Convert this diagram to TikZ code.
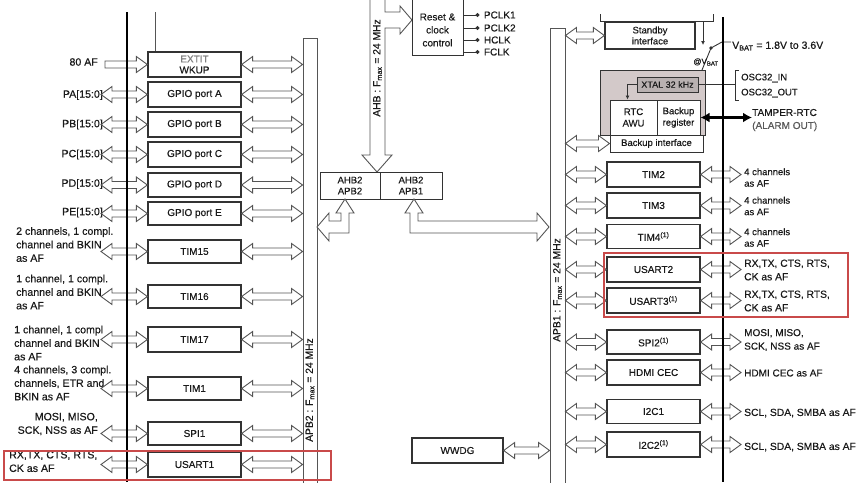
\documentclass[tikz,border=0pt]{standalone}
\usepackage{fontspec}
\setmainfont{Liberation Sans}[FakeBold=0.4]
\usetikzlibrary{calc,arrows.meta}
\definecolor{ln}{HTML}{333333}
\definecolor{ar}{HTML}{555555}
\definecolor{rd}{HTML}{C94A4A}
\definecolor{bk}{HTML}{D3C9C9}
\definecolor{xt}{HTML}{B9B1B1}
\definecolor{tx}{HTML}{1A1A1A}
\newcommand{\hda}[3]{%
 \draw[fatarr] let \p1=#1, \p2=#2, \p3=#3 in
 (\x1,\y3) -- (\x1+11pt,\y3+8pt) -- (\x1+11pt,\y3+3.5pt) -- (\x2-11pt,\y3+3.5pt) -- (\x2-11pt,\y3+8pt) -- (\x2,\y3) -- (\x2-11pt,\y3-8pt) -- (\x2-11pt,\y3-3.5pt) -- (\x1+11pt,\y3-3.5pt) -- (\x1+11pt,\y3-8pt) -- cycle;}
\newcommand{\hsa}[3]{%
 \draw[fatarr] let \p1=#1, \p2=#2, \p3=#3 in
 (\x1,\y3+3.5pt) -- (\x2-11pt,\y3+3.5pt) -- (\x2-11pt,\y3+8pt) -- (\x2,\y3) -- (\x2-11pt,\y3-8pt) -- (\x2-11pt,\y3-3.5pt) -- (\x1,\y3-3.5pt) -- cycle;}
\tikzset{
 box/.style={draw=ln, line width=1.3pt, fill=white, minimum width=93pt, minimum height=25pt, inner sep=1pt, font=\fontsize{10}{12}\selectfont, text=tx, align=center},
 fatarr/.style={draw=ar, line width=0.9pt, line join=miter},
 lbl/.style={font=\fontsize{10.6}{13.5}\selectfont, text=tx, inner sep=0pt},
 slbl/.style={font=\fontsize{9.5}{11.5}\selectfont, text=tx, inner sep=0pt, anchor=west, align=left},
 rlbl/.style={font=\fontsize{10.3}{13.5}\selectfont, text=tx, inner sep=0pt, anchor=west, align=left},
 bus/.style={draw=ar, line width=0.9pt},
 rot/.style={rotate=90, font=\fontsize{10.3}{11}\selectfont, text=tx, inner sep=0pt},
 redbox/.style={draw=rd, line width=2pt},
 thinln/.style={draw=ln, line width=0.9pt},
}
\begin{document}
\begin{tikzpicture}[x=1pt,y=-1pt]
\path[use as bounding box, fill=white] (0,0) rectangle (858,482);

% buses
\node[bus, minimum width=14pt, minimum height=460pt] (apb2) at (310,268) {};
\node[bus, minimum width=15pt, minimum height=470pt] (apb1) at (557.5,263) {};
\node[rot] (apb2l) at (310,390) {APB2 : F\textsubscript{max} = 24 MHz};
\node[rot] (apb1l) at (557.5,290) {APB1 : F\textsubscript{max} = 24 MHz};

% left boxes
\node[box] (exti) at (194.5,64.5) {\textcolor{gray}{EXTIT}\\[-1pt]WKUP};
\node[box] (gpa) at (194.5,94.5) {GPIO port A};
\node[box] (gpb) at (194.5,124.5) {GPIO port B};
\node[box] (gpc) at (194.5,154.5) {GPIO port C};
\node[box, minimum height=24pt] (gpd) at (194.5,185) {GPIO port D};
\node[box, minimum height=23pt] (gpe) at (194.5,213.5) {GPIO port E};
\node[box, minimum height=23pt] (t15) at (194.5,251.5) {TIM15};
\node[box, minimum height=23pt] (t16) at (194.5,296.5) {TIM16};
\node[box] (t17) at (194.5,339.5) {TIM17};
\node[box, minimum height=23pt] (t1) at (194.5,388.5) {TIM1};
\node[box, minimum height=23pt] (spi1) at (194.5,433.5) {SPI1};
\node[box] (us1) at (194.5,464.5) {USART1};

% left labels
\coordinate (Lx) at (101,0);
\coordinate (Lx0) at (105,0);
\node[lbl, anchor=east] (l80) at (98,62) {80 AF};
\node[lbl, anchor=east] (lpa) at (103,95) {PA[15:0]};
\node[lbl, anchor=east] (lpb) at (103,124.5) {PB[15:0]};
\node[lbl, anchor=east] (lpc) at (103,154.5) {PC[15:0]};
\node[lbl, anchor=east] (lpd) at (103,184) {PD[15:0]};
\node[lbl, anchor=east] (lpe) at (103,212.5) {PE[15:0]};
\node[lbl, anchor=west, align=left] (l15) at (16,244.5) {2 channels, 1 compl.\\channel and BKIN\\as AF};
\node[lbl, anchor=west, align=left] (l16) at (16,292) {1 channel, 1 compl.\\channel and BKIN\\as AF};
\node[lbl, anchor=west, align=left] (l17) at (14,343) {1 channel, 1 compl\\channel and BKIN\\as AF};
\node[lbl, anchor=west, align=left] (l1) at (14,383) {4 channels, 3 compl.\\channels, ETR and\\BKIN as AF};
\node[lbl, anchor=east, align=right] (lspi) at (98,424) {MOSI, MISO,\\SCK, NSS as AF};
\node[lbl, anchor=west, align=left] (lus) at (9,461.5) {RX,TX, CTS, RTS,\\CK as AF};

% left arrows
\hsa{(Lx0)}{(exti.west)}{(exti)}
\foreach \b in {gpa,gpb,gpc,gpd,gpe,t15,t16,t17,t1,spi1,us1}{\hda{(Lx)}{(\b.west)}{(\b)}}
\foreach \b in {exti,gpa,gpb,gpc,gpd,gpe,t15,t16,t17,t1,spi1,us1}{\hda{(\b.east)}{(apb2.west)}{(\b)}}

% AHB and RCC
\draw[fatarr] (370,-5) -- (370,155) -- (362,155) -- (377,172) -- (392,155) -- (385,155) -- (385,28) -- (400,28) -- (400,34) -- (412,20) -- (400,6) -- (400,12) -- (385,12) -- (385,-5);
\node[rot] (ahbl) at (377.5,68) {AHB : F\textsubscript{max} = 24 MHz};
\node[draw=ln, line width=1pt, minimum width=51pt, minimum height=75pt] (rcc) at (437.5,17.5) {};
\node[lbl, align=center, font=\fontsize{10}{13}\selectfont] (rcct) at (437.5,30) {Reset \&\\clock\\control};
\foreach \yy/\nm in {15/PCLK1,28/PCLK2,40/HCLK,52/FCLK}{
  \draw[thinln, -{Circle[length=4pt]}] (rcc.east |- 0,\yy) -- ++(16,0) node[lbl, anchor=west, xshift=4pt, font=\fontsize{10}{12}\selectfont] {\nm};}

% bridges
\node[draw=ln, line width=1pt, minimum width=60pt, minimum height=27pt, align=center, inner sep=0pt, font=\fontsize{9.5}{11}\selectfont, text=tx] (bl) at (350,185.5) {AHB2\\APB2};
\node[draw=ln, line width=1pt, minimum width=62pt, minimum height=27pt, align=center, inner sep=0pt, font=\fontsize{9.5}{11}\selectfont, text=tx] (br) at (411,185.5) {AHB2\\APB1};
\draw[fatarr] (414,199) -- (423,213) -- (418,213) -- (418,221) -- (537,221) -- (537,213) -- (549,227) -- (537,241) -- (537,233) -- (410,233) -- (410,213) -- (405,213) -- cycle;
\draw[fatarr] (345,199) -- (354,213) -- (349,213) -- (349,233) -- (329,233) -- (329,241) -- (317,227) -- (329,213) -- (329,221) -- (341,221) -- (341,213) -- (336,213) -- cycle;

% WWDG
\node[box, minimum width=91pt] (wwdg) at (457.5,450.5) {WWDG};
\hda{(wwdg.east)}{(apb1.west)}{(wwdg)}

% standby and backup domain
\draw[thinln, line width=1pt] (600,14) -- (600,21) -- (713,21) -- (713,14);
\node[box, minimum width=90pt, minimum height=27pt, font=\fontsize{9.5}{11}\selectfont] (stby) at (650,35.5) {Standby\\interface};
\draw[thinln, -{Latex[length=4pt,width=4pt]}] (703,21) -- (703,45);
\fill[ln] (711,48) circle (1.8pt);
\draw[thinln] (702,70) -- (711,48) -- (722,42) -- (731,42);
\node[lbl, anchor=west, font=\fontsize{10.5}{12}\selectfont] (vbat) at (732,46) {V\textsubscript{BAT} = 1.8V to 3.6V};
\node[lbl, font=\fontsize{8}{9}\selectfont] (atv) at (706,62) {@V\textsubscript{BAT}};
\node[draw=ln, line width=1pt, fill=bk, minimum width=105pt, minimum height=65pt] (bkdom) at (652.5,102.5) {};
\node[draw=ln, line width=0.8pt, fill=xt, minimum width=61pt, minimum height=15pt, inner sep=0pt, font=\fontsize{9}{10}\selectfont, text=tx] (xtal) at (667.5,84.5) {XTAL 32 kHz};
\node[box, minimum width=47pt, minimum height=35pt, line width=1pt, font=\fontsize{9.5}{11.5}\selectfont] (rtc) at (633.5,117.5) {RTC\\AWU};
\node[box, minimum width=43pt, minimum height=35pt, line width=1pt, font=\fontsize{9.5}{11.5}\selectfont] (bkreg) at (678.5,117.5) {Backup\\register};
\node[box, minimum width=93pt, minimum height=17pt, line width=1pt, font=\fontsize{9.5}{11}\selectfont] (bkif) at (656.5,143.5) {Backup interface};
\draw[thinln, -{Latex[length=4pt,width=4pt]}] (xtal.west) -| ($(rtc.north)+(-6,0)$);
\draw[thinln] (xtal.east) -- (735,84.5);
\draw[thinln] (739,70) -- (735,70) -- (735,100) -- (739,100);
\node[slbl] (osci) at (741,78) {OSC32\_IN};
\node[slbl] (osco) at (741,93) {OSC32\_OUT};
\node[slbl, font=\fontsize{10}{13}\selectfont] (tamp) at (752,120) {TAMPER-RTC\\\textcolor{gray!70!black}{(ALARM OUT)}};
\draw[black, line width=2.2pt, {Latex[length=9pt,width=10pt]}-{Latex[length=9pt,width=10pt]}] (bkreg.east) -- (bkreg.east -| tamp.west);
\hda{(apb1.east)}{(stby.west)}{(stby)}
\hda{(apb1.east)}{(bkif.west)}{(bkif)}

% right boxes
\node[box] (t2) at (653.5,174.5) {TIM2};
\node[box] (t3) at (653.5,205.5) {TIM3};
\node[box, minimum height=24pt] (t4) at (653.5,236.5) {TIM4\textsuperscript{(1)}};
\node[box] (us2) at (653.5,269.5) {USART2};
\node[box] (us3) at (653.5,300.5) {USART3\textsuperscript{(1)}};
\node[box, minimum height=24pt] (spi2) at (653.5,342) {SPI2\textsuperscript{(1)}};
\node[box] (cec) at (653.5,372.5) {HDMI CEC};
\node[box, minimum height=24pt] (i1) at (653.5,411.5) {I2C1};
\node[box] (i2) at (653.5,444.5) {I2C2\textsuperscript{(1)}};

\coordinate (Rx) at (741,0);
\foreach \b in {t2,t3,t4,us2,us3,spi2,cec,i1,i2}{\hda{(apb1.east)}{(\b.west)}{(\b)} \hda{(\b.east)}{(Rx)}{(\b)}}

% right labels
\node[slbl] (r2) at (744,177.5) {4 channels\\as AF};
\node[slbl] (r3) at (744,206) {4 channels\\as AF};
\node[slbl] (r4) at (744,237.5) {4 channels\\as AF};
\node[rlbl] (r5) at (744,270) {RX,TX, CTS, RTS,\\CK as AF};
\node[rlbl] (r6) at (744,301) {RX,TX, CTS, RTS,\\CK as AF};
\node[rlbl, font=\fontsize{10}{13.5}\selectfont] (r7) at (744,340) {MOSI, MISO,\\SCK, NSS as AF};
\node[rlbl, font=\fontsize{10}{13.5}\selectfont] (r8) at (744,373) {HDMI CEC as AF};
\node[rlbl] (r9) at (744,413) {SCL, SDA, SMBA as AF};
\node[rlbl] (r10) at (744,447) {SCL, SDA, SMBA as AF};

% black lines and thin top line
\draw[black, line width=2.2pt] (127,12) -- (127,482);
\draw[black, line width=2.2pt] (723,17) -- (723,482);
\draw[ar, line width=0.9pt] (155,12) -- (exti.north -| 155,0);

% red highlight frames
\draw[redbox] (4,451) rectangle (331,480);
\draw[redbox] (604,253) rectangle (848,317);
\end{tikzpicture}
\end{document}
